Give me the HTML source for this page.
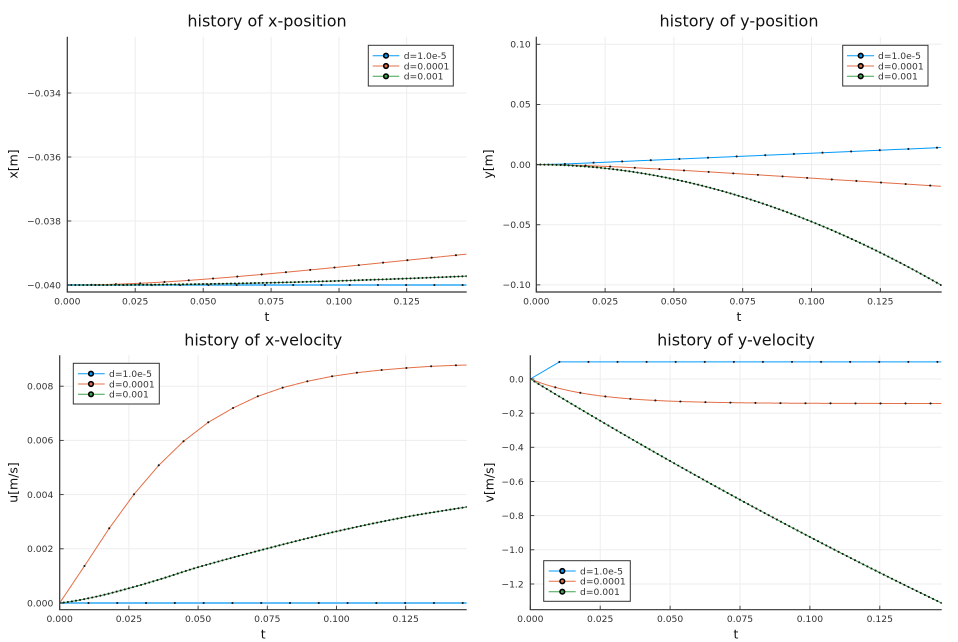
<!DOCTYPE html>
<html><head><meta charset="utf-8">
<style>
html,body{margin:0;padding:0;background:#fff;}
svg{display:block;font-family:"DejaVu Sans","Liberation Sans",sans-serif;}
.tk{font-size:9.2px;fill:#333;}
.tkr{font-size:9.2px;fill:#333;text-anchor:end;}
.tkc{font-size:9.2px;fill:#333;text-anchor:middle;}
.ti{font-size:16px;fill:#111;text-anchor:middle;}
.lb{font-size:12.5px;fill:#111;text-anchor:middle;}
.lg{font-size:9.2px;fill:#333;}
</style></head><body>
<svg id="s" width="958" height="642" viewBox="0 0 958 642">
<rect x="0" y="0" width="958" height="642" fill="#fff"/>
<g id="grid"></g>
<g id="data"></g>
<g id="axes"></g>

<!-- Titles -->
<text class="ti" x="267" y="26.7">history of x-position</text>
<text class="ti" x="739" y="26.7">history of y-position</text>
<text class="ti" x="263.2" y="345.3">history of x-velocity</text>
<text class="ti" x="736" y="345.3">history of y-velocity</text>

<!-- x labels -->
<text class="lb" x="267" y="321">t</text>
<text class="lb" x="739" y="321">t</text>
<text class="lb" x="263.2" y="638.5">t</text>
<text class="lb" x="736" y="638.5">t</text>

<!-- y labels -->
<text class="lb" transform="translate(17.4,164) rotate(-90)">x[m]</text>
<text class="lb" transform="translate(492.4,164) rotate(-90)">y[m]</text>
<text class="lb" transform="translate(17.4,482.5) rotate(-90)">u[m/s]</text>
<text class="lb" transform="translate(493.6,482.5) rotate(-90)">v[m/s]</text>

<!-- Panel 1 tick labels -->
<text class="tkr" x="61" y="96.3">−0.034</text>
<text class="tkr" x="61" y="160.3">−0.036</text>
<text class="tkr" x="61" y="224.3">−0.038</text>
<text class="tkr" x="61" y="288.3">−0.040</text>
<text class="tkc" x="67.3" y="304.3">0.000</text>
<text class="tkc" x="135.2" y="304.3">0.025</text>
<text class="tkc" x="203.2" y="304.3">0.050</text>
<text class="tkc" x="271.1" y="304.3">0.075</text>
<text class="tkc" x="339.0" y="304.3">0.100</text>
<text class="tkc" x="406.7" y="304.3">0.125</text>

<!-- Panel 2 tick labels -->
<text class="tkr" x="530.7" y="47.6">0.10</text>
<text class="tkr" x="530.7" y="107.7">0.05</text>
<text class="tkr" x="530.7" y="167.9">0.00</text>
<text class="tkr" x="530.7" y="228.1">−0.05</text>
<text class="tkr" x="530.7" y="288.2">−0.10</text>
<text class="tkc" x="536.3" y="304.3">0.000</text>
<text class="tkc" x="605.1" y="304.3">0.025</text>
<text class="tkc" x="673.9" y="304.3">0.050</text>
<text class="tkc" x="742.7" y="304.3">0.075</text>
<text class="tkc" x="811.5" y="304.3">0.100</text>
<text class="tkc" x="880.3" y="304.3">0.125</text>

<!-- Panel 3 tick labels -->
<text class="tkr" x="53.3" y="389.5">0.008</text>
<text class="tkr" x="53.3" y="443.7">0.006</text>
<text class="tkr" x="53.3" y="497.9">0.004</text>
<text class="tkr" x="53.3" y="552.1">0.002</text>
<text class="tkr" x="53.3" y="606.3">0.000</text>
<text class="tkc" x="59.7" y="622">0.000</text>
<text class="tkc" x="128.9" y="622">0.025</text>
<text class="tkc" x="198.1" y="622">0.050</text>
<text class="tkc" x="267.3" y="622">0.075</text>
<text class="tkc" x="336.5" y="622">0.100</text>
<text class="tkc" x="405.7" y="622">0.125</text>

<!-- Panel 4 tick labels -->
<text class="tkr" x="523.7" y="382.3">0.0</text>
<text class="tkr" x="523.7" y="416.5">−0.2</text>
<text class="tkr" x="523.7" y="450.6">−0.4</text>
<text class="tkr" x="523.7" y="484.8">−0.6</text>
<text class="tkr" x="523.7" y="518.9">−0.8</text>
<text class="tkr" x="523.7" y="553.1">−1.0</text>
<text class="tkr" x="523.7" y="587.3">−1.2</text>
<text class="tkc" x="530.3" y="622">0.000</text>
<text class="tkc" x="600.2" y="622">0.025</text>
<text class="tkc" x="670.1" y="622">0.050</text>
<text class="tkc" x="740.0" y="622">0.075</text>
<text class="tkc" x="809.9" y="622">0.100</text>
<text class="tkc" x="879.8" y="622">0.125</text>

<!-- Legends -->
<g id="leg1">
<rect x="368.3" y="45.3" width="85" height="40.7" fill="#fff" stroke="#333" stroke-width="1"/>
<line x1="372.7" y1="55.7" x2="399.3" y2="55.7" stroke="#009AFA" stroke-width="1"/>
<circle cx="386" cy="55.7" r="2.3" fill="#009AFA" stroke="#000" stroke-width="1.6"/>
<text class="lg" x="403.7" y="59">d=1.0e-5</text>
<line x1="372.7" y1="66" x2="399.3" y2="66" stroke="#E36F47" stroke-width="1"/>
<circle cx="386" cy="66" r="2.3" fill="#E36F47" stroke="#000" stroke-width="1.6"/>
<text class="lg" x="403.7" y="69.3">d=0.0001</text>
<line x1="372.7" y1="76.3" x2="399.3" y2="76.3" stroke="#3EA44E" stroke-width="1"/>
<circle cx="386" cy="76.3" r="2.3" fill="#3EA44E" stroke="#000" stroke-width="1.6"/>
<text class="lg" x="403.7" y="79.6">d=0.001</text>
</g>
<g id="leg2">
<rect x="842.7" y="45.3" width="85.3" height="40.7" fill="#fff" stroke="#333" stroke-width="1"/>
<line x1="847" y1="55.7" x2="874" y2="55.7" stroke="#009AFA" stroke-width="1"/>
<circle cx="860.7" cy="55.7" r="2.3" fill="#009AFA" stroke="#000" stroke-width="1.6"/>
<text class="lg" x="878" y="59">d=1.0e-5</text>
<line x1="847" y1="66" x2="874" y2="66" stroke="#E36F47" stroke-width="1"/>
<circle cx="860.7" cy="66" r="2.3" fill="#E36F47" stroke="#000" stroke-width="1.6"/>
<text class="lg" x="878" y="69.3">d=0.0001</text>
<line x1="847" y1="76.3" x2="874" y2="76.3" stroke="#3EA44E" stroke-width="1"/>
<circle cx="860.7" cy="76.3" r="2.3" fill="#3EA44E" stroke="#000" stroke-width="1.6"/>
<text class="lg" x="878" y="79.6">d=0.001</text>
</g>
<g id="leg3">
<rect x="73.3" y="363.3" width="86" height="40.7" fill="#fff" stroke="#333" stroke-width="1"/>
<line x1="78" y1="373.7" x2="104.7" y2="373.7" stroke="#009AFA" stroke-width="1"/>
<circle cx="91" cy="373.7" r="2.3" fill="#009AFA" stroke="#000" stroke-width="1.6"/>
<text class="lg" x="109" y="377">d=1.0e-5</text>
<line x1="78" y1="384" x2="104.7" y2="384" stroke="#E36F47" stroke-width="1"/>
<circle cx="91" cy="384" r="2.3" fill="#E36F47" stroke="#000" stroke-width="1.6"/>
<text class="lg" x="109" y="387.3">d=0.0001</text>
<line x1="78" y1="394.3" x2="104.7" y2="394.3" stroke="#3EA44E" stroke-width="1"/>
<circle cx="91" cy="394.3" r="2.3" fill="#3EA44E" stroke="#000" stroke-width="1.6"/>
<text class="lg" x="109" y="397.6">d=0.001</text>
</g>
<g id="leg4">
<rect x="543.7" y="560.7" width="86.6" height="40.6" fill="#fff" stroke="#333" stroke-width="1"/>
<line x1="548.7" y1="571" x2="575.7" y2="571" stroke="#009AFA" stroke-width="1"/>
<circle cx="562.3" cy="571" r="2.3" fill="#009AFA" stroke="#000" stroke-width="1.6"/>
<text class="lg" x="580" y="574.3">d=1.0e-5</text>
<line x1="548.7" y1="581.3" x2="575.7" y2="581.3" stroke="#E36F47" stroke-width="1"/>
<circle cx="562.3" cy="581.3" r="2.3" fill="#E36F47" stroke="#000" stroke-width="1.6"/>
<text class="lg" x="580" y="584.6">d=0.0001</text>
<line x1="548.7" y1="591.7" x2="575.7" y2="591.7" stroke="#3EA44E" stroke-width="1"/>
<circle cx="562.3" cy="591.7" r="2.3" fill="#3EA44E" stroke="#000" stroke-width="1.6"/>
<text class="lg" x="580" y="595">d=0.001</text>
</g>
</svg>
<script>
(function(){
const NS="http://www.w3.org/2000/svg";
function el(tag,attrs,parent){const e=document.createElementNS(NS,tag);for(const k in attrs)e.setAttribute(k,attrs[k]);parent.appendChild(e);return e;}
const T=0.147;
const dtO=0.008947;
const UO=[0,0.001365,0.002756,0.004011,0.005081,0.005967,0.006668,0.007196,0.007627,0.007945,0.008181,0.008365,0.008498,0.008598,0.008672,0.008734,0.008771];
function uO(t){let i=Math.floor(t/dtO);if(i>=16){return 0.008771+(t-16*dtO)*(0.00878-0.008771)/(T-16*dtO);}const f=t/dtO-i;return UO[i]+(UO[i+1]-UO[i])*f;}
const GP=[[0,0],[0.0121,0.00021],[0.025,0.000543],[0.0363,0.000877],[0.05,0.001321],[0.075,0.002012],[0.1,0.002642],[0.125,0.003173],[0.147,0.003543]];
const GS=GP.map((p,i)=>{if(i==0)return (GP[1][1]-GP[0][1])/(GP[1][0]-GP[0][0])*0.6;if(i==GP.length-1)return (p[1]-GP[i-1][1])/(p[0]-GP[i-1][0]);return (GP[i+1][1]-GP[i-1][1])/(GP[i+1][0]-GP[i-1][0]);});
function uG(t){let i=0;while(i<GP.length-2&&t>GP[i+1][0])i++;const x0=GP[i][0],x1=GP[i+1][0],h=x1-x0,s=(t-x0)/h;const y0=GP[i][1],y1=GP[i+1][1],m0=GS[i]*h,m1=GS[i+1]*h;const s2=s*s,s3=s2*s;return (2*s3-3*s2+1)*y0+(s3-2*s2+s)*m0+(-2*s3+3*s2)*y1+(s3-s2)*m1;}
function vB(t){return t<0.0104?0.1*t/0.0104:0.1;}
function vO(t){return -0.1435*(1-Math.exp(-t/0.0215));}
function vG(t){return -9.957*t+7.07*t*t;}
function integ(f){const h=0.00005,n=Math.ceil(T/h)+3;const c=[0];for(let i=1;i<=n;i++){const a=(i-1)*h,b=i*h;c.push(c[i-1]+(f(a)+f(b))*h/2);}return t=>{const k=Math.floor(t/h),r=t/h-k;return c[k]+(c[k+1]-c[k])*r;};}
const XO=integ(uO),XG=integ(uG),YB=integ(vB),YO=integ(vO),YG=integ(vG);
const COL=["#009AFA","#E36F47","#3EA44E"];
const DT=[0.0104,0.008947,0.00147];
const P=[
 {x0:67.3,x1:466.7,y0:36.7,y1:292,sx:2715,fy:v=>285-(v+0.04)*32000,yt:[93,157,221,285],xt:[67.3,135.2,203.2,271.1,339.0,406.7],
  f:[t=>-0.04,t=>-0.04+XO(t),t=>-0.04+XG(t)],w:[2,1,1],op:[0.6,1,1]},
 {x0:536.3,x1:941.7,y0:36.7,y1:292,sx:2752,fy:v=>164.6-v*1203,yt:[44.3,104.45,164.6,224.75,284.9],xt:[536.3,605.1,673.9,742.7,811.5,880.3],
  f:[YB,YO,YG],w:[1,1,1],op:[1,1,1]},
 {x0:59.7,x1:466.7,y0:355.3,y1:609.7,sx:2768,fy:v=>603-v*27100,yt:[386.2,440.4,494.6,548.8,603],xt:[59.7,128.9,198.1,267.3,336.5,405.7],
  f:[t=>0,uO,uG],w:[2,1,1],op:[0.6,1,1]},
 {x0:530.3,x1:941.7,y0:355.3,y1:609.7,sx:2796,fy:v=>379-v*170.8,yt:[379,413.2,447.3,481.5,515.6,549.8,584],xt:[530.3,600.2,670.1,740.0,809.9,879.8],
  f:[vB,vO,vG],w:[1,1,1],op:[1,1,1]}
];
const grid=document.getElementById('grid'),data=document.getElementById('data'),axes=document.getElementById('axes'),svg=document.getElementById('s');
const defs=el('defs',{},svg);
P.forEach((p,pi)=>{
 p.xt.forEach(x=>{if(x>p.x0+1)el('line',{x1:x,y1:p.y0,x2:x,y2:p.y1,stroke:'#ededed','stroke-width':1},grid);});
 p.yt.forEach(y=>{el('line',{x1:p.x0,y1:y,x2:p.x1,y2:y,stroke:'#ededed','stroke-width':1},grid);});
 const cp=el('clipPath',{id:'c'+pi},defs);
 el('rect',{x:p.x0,y:p.y0-1,width:p.x1-p.x0,height:p.y1-p.y0+1},cp);
 const g=el('g',{'clip-path':'url(#c'+pi+')'},data);
 for(let s=0;s<3;s++){
  const f=p.f[s];let d='';const N=400;
  for(let i=0;i<=N;i++){const t=T*i/N;const x=p.x0+t*p.sx,y=p.fy(f(t));d+=(i?'L':'M')+x.toFixed(2)+','+y.toFixed(2);}
  if(s==0&&(pi==1||pi==3)){d='';const pts=[0,0.0104];for(let t=0.0104;t<=T;t+=0.0104)pts.push(t);pts.push(T);pts.forEach((t,i)=>{const x=p.x0+t*p.sx,y=p.fy(f(t));d+=(i?'L':'M')+x.toFixed(2)+','+y.toFixed(2);});}
  el('path',{d:d,fill:'none',stroke:COL[s],'stroke-width':p.w[s],'stroke-opacity':p.op[s],'stroke-linejoin':'round'},g);
  const dt=DT[s];
  for(let k=0;k*dt<=T+1e-9;k++){const t=k*dt;const x=p.x0+t*p.sx,y=p.fy(f(t));el('circle',{cx:x.toFixed(2),cy:y.toFixed(2),r:1.05,fill:'#151515'},g);}
 }
 el('path',{d:'M'+p.x0+','+p.y0+'V'+p.y1+'H'+p.x1,fill:'none',stroke:'#333','stroke-width':1.2},axes);
 p.yt.forEach(y=>{el('line',{x1:p.x0,y1:y,x2:p.x0+4,y2:y,stroke:'#333','stroke-width':0.9},axes);});
 p.xt.forEach(x=>{el('line',{x1:x,y1:p.y1,x2:x,y2:p.y1-4,stroke:'#333','stroke-width':0.9},axes);});
});
})();
</script>
</body></html>
